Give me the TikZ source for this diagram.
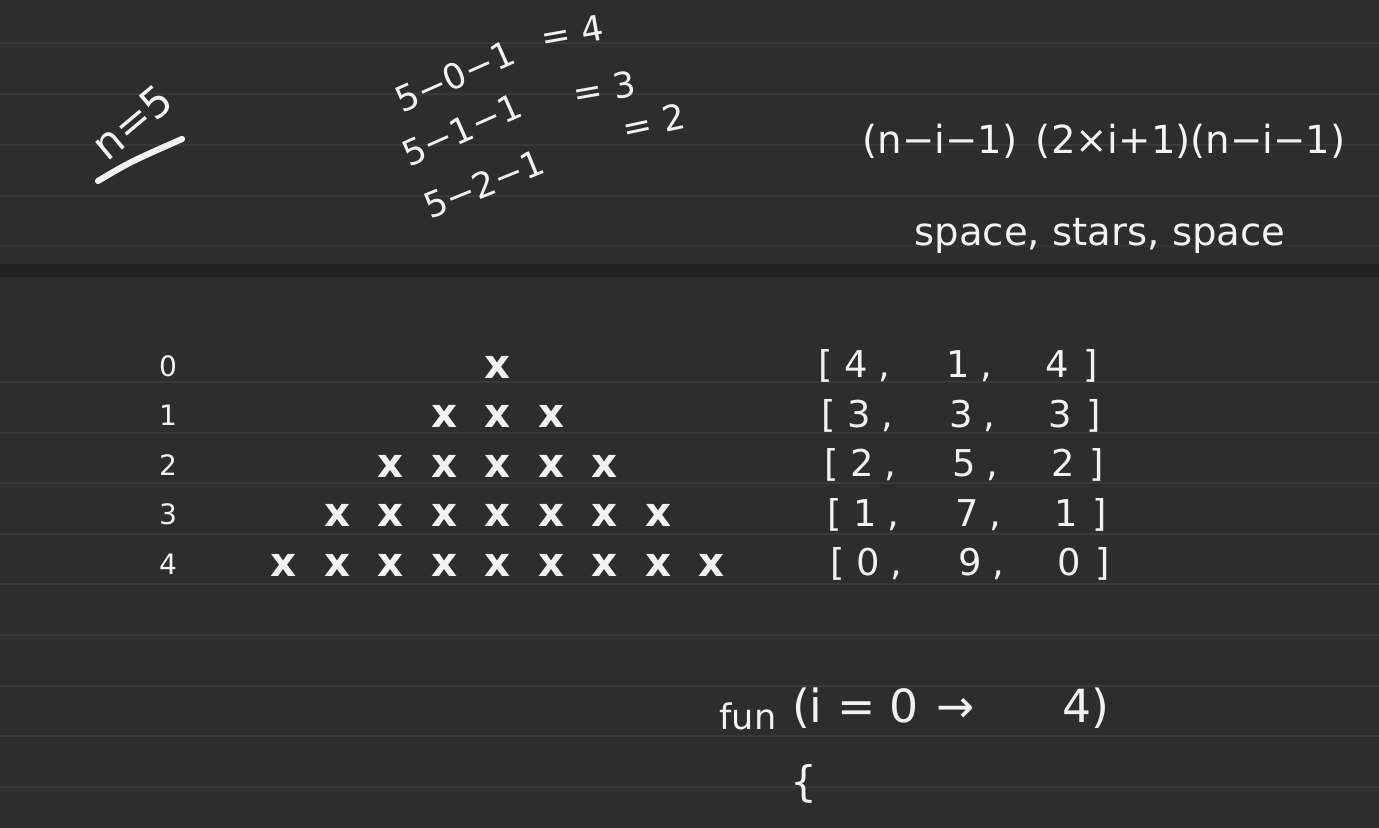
\documentclass[tikz,border=0pt]{standalone}
\usepackage{fontspec}
\setmainfont{DejaVu Sans}
\definecolor{BoardGray}{HTML}{2D2D2D}
\definecolor{RuleGray}{HTML}{393939}
\definecolor{GapGray}{HTML}{222222}
\definecolor{ChalkWhite}{HTML}{F2F2F2}
\usepackage{tikz}
\usetikzlibrary{positioning}

\begin{document}
\begin{tikzpicture}[x=0.02cm, y=-0.02cm,
      chalk/.style={text=ChalkWhite, inner sep=1pt,
                    font=\fontsize{20}{24}\selectfont},
      starmark/.style={chalk, font=\fontsize{23}{26}\selectfont\bfseries},
      rowlabel/.style={chalk, font=\fontsize{16}{19}\selectfont},
      rule/.style={RuleGray, line width=1.1pt}]

      % page and ruling
      \fill[BoardGray] (0,0) rectangle (1379,828);
      \useasboundingbox (0,0) rectangle (1379,828);
      \foreach \y in {43,94,145,196,382,433,483,534,584,635,686,736,787}
        \draw[rule] (0,\y) -- (1379,\y);
      \draw[rule, RuleGray!60!BoardGray] (0,246) -- (1379,246);
      \fill[GapGray] (0,264) rectangle (1379,277);

      % top notes
      \node[chalk, rotate=40, font=\fontsize{24}{28}\selectfont] (nval) at (132,122) {n=5};
      \draw[ChalkWhite, line width=3.5pt, line cap=round]
        (98,181) .. controls (130,162) .. (182,139);

      \node[chalk, rotate=24] (eqaL) at (455,76)  {5−0−1};
      \node[chalk, rotate=10] (eqaR) at (572,32)  {= 4};
      \node[chalk, rotate=24] (eqbL) at (462,130) {5−1−1};
      \node[chalk, rotate=10] (eqbR) at (604,88)  {= 3};
      \node[chalk, rotate=22] (eqcL) at (484,184) {5−2−1};
      \node[chalk, rotate=12] (eqcR) at (654,122) {= 2};

      \node[chalk, font=\fontsize{22}{26}\selectfont] (formula) at (1104,141)
        {(n−i−1)\, (2×i+1)(n−i−1)};
      \node[chalk, font=\fontsize{22}{26}\selectfont] (parts) at (1100,236) {space, stars, space};

      % pyramid rows
      \foreach \r in {0,...,4} {
        \node[rowlabel] (idx\r) at (168,{366+49.5*\r}) {\r};
        \pgfmathtruncatemacro\last{2*\r}
        \foreach \k in {0,...,\last}
          \node[starmark] (s\r-\k) at ({498+(\k-\r)*53.5},{367+49.5*\r}) {x};
      }

      \foreach \a/\b/\c [count=\r from 0] in {4/1/4, 3/3/3, 2/5/2, 1/7/1, 0/9/0}
        \node[chalk, anchor=west, font=\fontsize{21}{24}\selectfont] (arr\r) at ({816+3*\r},{366+49.5*\r})
          {[\hspace{7pt}\makebox[58pt][l]{\a\;,}\makebox[56pt][l]{\b\;,}\makebox[22pt][l]{\c}]};

      % loop
      \node[chalk] (fnname) at (748,716) {fun};
      \node[chalk, anchor=west, font=\fontsize{26}{30}\selectfont] (fnrange) at (790,708)
        {(i = 0\hspace{10pt}→\hspace{50pt}4)};
      \node[chalk, font=\fontsize{24}{28}\selectfont] (brace) at (804,784) {\{};
    \end{tikzpicture}
\end{document}
